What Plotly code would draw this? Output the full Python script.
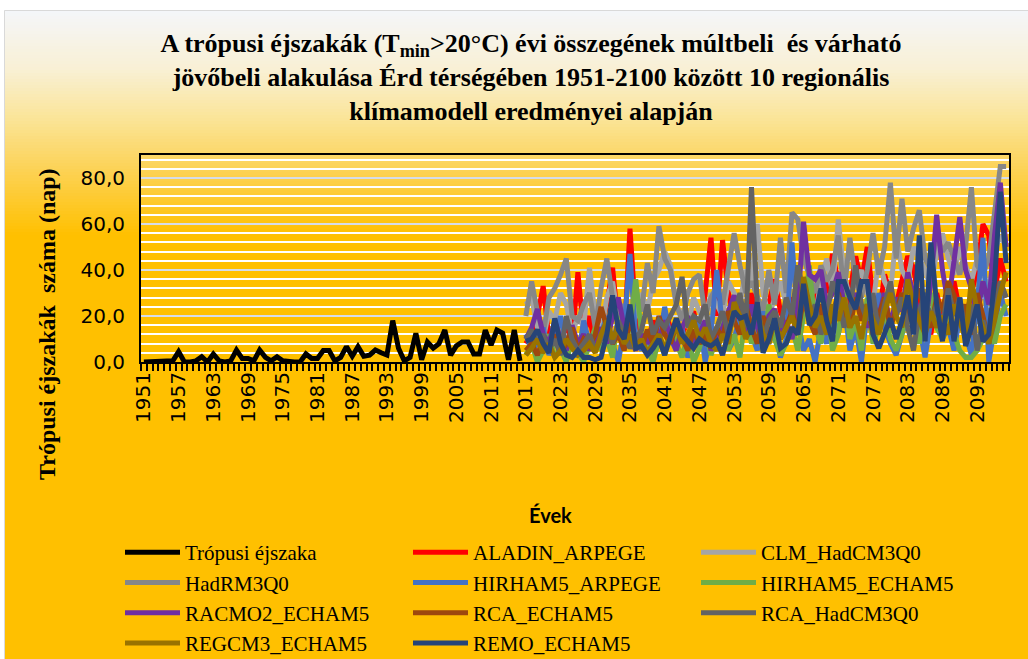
import plotly.graph_objects as go

# observed tropical nights, 1951-2016
obs_years = list(range(1951, 2017))
obs_values = [
    0, 0, 0, 0, 0, 0.5, 4.5, 0, 0, 0.5, 2.3, 0, 3.5, 0.5, 0, 0.5, 5.2, 1.5, 1.5, 0.5,
    5.2, 2, 0.5, 2.3, 0.5, 0, 0, 0, 3.5, 1.5, 1.5, 5, 5, 0.5, 2, 6.7, 2.5, 6.7, 2.5, 3,
    5.2, 4, 3, 18, 6, 0.5, 2, 12.5, 1, 8.7, 6, 8, 13.9, 3, 7, 8.7, 8.7, 3.5, 3.5, 13.9,
    7.4, 13.9, 12.5, 1, 13.9, 0.5,
]

# model projections, 2017-2100
model_years = list(range(2017, 2101))

aladin_arpege = [
    8, 12, 20, 33, 10, 15, 5, 18, 8, 39, 12, 20,
    6, 15, 25, 41, 15, 10, 58, 20, 12, 8, 18, 10,
    22, 15, 8, 12, 18, 22, 10, 30, 54, 20, 53, 30,
    18, 25, 12, 30, 20, 15, 25, 36, 22, 15, 28, 20,
    30, 18, 25, 40, 30, 47, 35, 22, 30, 46, 35, 50,
    28, 20, 38, 30, 25, 35, 46, 41, 25, 18, 12, 30,
    20, 25, 35, 22, 18, 30, 40, 60, 55, 30, 45, 35,
]
clm_hadcm3q0 = [
    25, 28, 15, 10, 22, 18, 30, 25, 12, 20, 15, 41,
    20, 12, 28, 35, 18, 25, 15, 20, 30, 22, 35, 40,
    48, 42, 25, 20, 15, 28, 22, 18, 30, 25, 20, 35,
    30, 25, 40, 35, 60, 30, 20, 28, 35, 25, 40, 30,
    25, 32, 20, 35, 45, 30, 62, 38, 28, 35, 40, 30,
    25, 45, 35, 30, 55, 40, 35, 50, 45, 40, 32, 48,
    56, 45, 38, 50, 42, 35, 45, 40, 30, 48, 55, 50,
]
hadrm3q0 = [
    20, 35, 22, 12, 28, 32, 38, 45, 20, 18, 25, 30,
    15, 32, 45, 28, 20, 25, 18, 30, 22, 43, 30, 59,
    45, 40, 25, 18, 30, 36, 38, 20, 28, 33, 25, 40,
    56, 42, 30, 35, 28, 22, 40, 25, 54, 30, 65, 62,
    45, 38, 30, 42, 35, 40, 55, 30, 54, 35, 28, 40,
    56, 38, 50, 78, 45, 71, 48, 58, 66, 45, 40, 55,
    48, 52, 45, 38, 50, 76, 42, 38, 45, 65, 85, 85,
]
hirham5_arpege = [
    12, 5, 8, 15, 3, 10, 20, 6, 12, 2, 18, 8,
    5, 12, 20, 8, 0, 15, 47, 10, 5, 12, 3, 8,
    24, 10, 5, 15, 2, 8, 18, 0, 12, 40, 15, 5,
    10, 20, 25, 12, 5, 22, 8, 15, 2, 10, 52, 18,
    5, 10, 0, 15, 8, 20, 12, 25, 5, 15, 0, 22,
    10, 30, 15, 8, 3, 12, 20, 28, 15, 2, 18, 25,
    10, 15, 5, 20, 12, 3, 25, 54, 0, 15, 30, 20,
]
hirham5_echam5 = [
    3, 8, 0, 5, 12, 2, 6, 0, 10, 4, 0, 8,
    15, 5, 10, 2, 20, 8, 15, 36, 12, 5, 0, 10,
    3, 15, 8, 2, 12, 0, 6, 15, 3, 10, 18, 5,
    12, 2, 20, 8, 15, 5, 25, 10, 3, 8, 15, 5,
    20, 42, 15, 8, 25, 5, 12, 30, 10, 18, 5, 28,
    8, 15, 22, 10, 5, 12, 25, 18, 8, 22, 30, 15,
    10, 25, 12, 5, 2, 2, 5, 10, 15, 8, 20, 25,
]
racmo2_echam5 = [
    10, 15, 23, 12, 8, 18, 10, 5, 16, 8, 12, 5,
    10, 15, 8, 20, 28, 15, 10, 5, 12, 8, 15, 10,
    18, 12, 5, 15, 20, 8, 12, 18, 5, 10, 15, 22,
    29, 20, 12, 25, 15, 8, 20, 23, 12, 18, 10, 25,
    61, 38, 36, 40, 25, 30, 39, 25, 18, 30, 22, 15,
    25, 20, 30, 15, 28, 22, 39, 30, 20, 15, 35, 64,
    40, 25, 45, 63, 40, 32, 20, 35, 25, 55, 78, 50,
]
rca_echam5 = [
    5, 8, 3, 10, 6, 12, 4, 8, 15, 5, 10, 7,
    12, 24, 15, 8, 12, 5, 18, 10, 6, 14, 8, 20,
    12, 8, 16, 10, 5, 14, 8, 12, 6, 15, 10, 22,
    18, 12, 25, 15, 8, 20, 12, 18, 10, 15, 22, 12,
    28, 18, 12, 25, 15, 20, 30, 22, 15, 28, 18, 25,
    12, 20, 28, 15, 22, 30, 18, 25, 32, 20, 15, 28,
    22, 35, 29, 18, 25, 12, 30, 20, 8, 25, 35, 28,
]
rca_hadcm3q0 = [
    10, 14, 8, 12, 5, 10, 3, 20, 10, 5, 8, 12,
    5, 10, 15, 8, 18, 12, 6, 10, 14, 25, 12, 18,
    15, 20, 25, 37, 15, 20, 18, 25, 10, 15, 22, 12,
    20, 30, 15, 76, 25, 10, 18, 22, 15, 28, 20, 42,
    30, 18, 25, 12, 20, 35, 28, 15, 22, 42, 25, 18,
    30, 12, 25, 35, 20, 28, 15, 5, 22, 30, 18, 25,
    15, 32, 20, 28, 12, 25, 5, 18, 10, 20, 35, 28,
]
regcm3_echam5 = [
    3, 6, 10, 4, 8, 2, 5, 10, 6, 3, 5, 8,
    4, 12, 18, 10, 15, 8, 12, 6, 10, 4, 8, 12,
    6, 10, 15, 8, 12, 18, 10, 15, 8, 5, 12, 8,
    26, 20, 10, 15, 22, 12, 8, 18, 10, 15, 20, 12,
    37, 25, 15, 20, 12, 25, 18, 28, 15, 20, 10, 25,
    18, 12, 22, 30, 20, 15, 36, 25, 18, 12, 22, 15,
    20, 12, 25, 18, 10, 36, 22, 15, 8, 18, 30, 39,
]
remo_echam5 = [
    9, 10, 14, 8, 4, 19, 8, 3, 2, 5, 2, 2,
    1, 2, 12, 29, 14, 10, 25, 6, 7, 3, 6, 10,
    3, 12, 19, 12, 9, 6, 10, 8, 7, 9, 3, 12,
    22, 19, 20, 12, 26, 4, 10, 19, 6, 8, 15, 12,
    34, 16, 20, 32, 18, 9, 35, 35, 28, 23, 35, 35,
    12, 6, 12, 19, 10, 18, 29, 12, 55, 9, 52, 25,
    9, 29, 9, 28, 7, 15, 25, 9, 12, 35, 74, 43,
]

models = [
    ("ALADIN_ARPEGE", aladin_arpege, "#FF0000"),
    ("CLM_HadCM3Q0", clm_hadcm3q0, "#A5A5A5"),
    ("HadRM3Q0", hadrm3q0, "#878787"),
    ("HIRHAM5_ARPEGE", hirham5_arpege, "#4472C4"),
    ("HIRHAM5_ECHAM5", hirham5_echam5, "#70AD47"),
    ("RACMO2_ECHAM5", racmo2_echam5, "#7030A0"),
    ("RCA_ECHAM5", rca_echam5, "#9E480E"),
    ("RCA_HadCM3Q0", rca_hadcm3q0, "#636363"),
    ("REGCM3_ECHAM5", regcm3_echam5, "#997300"),
    ("REMO_ECHAM5", remo_echam5, "#264478"),
]

W, H = 1028, 659
L, R, T, B = 141, 1009, 155, 362   # plot area in px
PW, PH = R - L, B - T


def px(x):
    return (x - L) / PW


def py(y):
    return (B - y) / PH


fig = go.Figure()
fig.add_trace(go.Scatter(
    x=obs_years, y=obs_values, mode="lines", name="Trópusi éjszaka",
    line=dict(color="#000000", width=5),
))
for name, vals, color in models:
    fig.add_trace(go.Scatter(
        x=model_years, y=vals, mode="lines", name=name,
        line=dict(color=color, width=5),
    ))

# gradient background: light at top, gold below
stops = [(10, (244, 246, 250)), (70, (249, 240, 212)), (120, (250, 228, 150)),
         (160, (252, 213, 98)), (235, (255, 192, 0)), (659, (255, 192, 0))]
shapes = []
step = 3
for y0 in range(10, 240, step):
    yc = y0 + step / 2
    for (ya, ca), (yb, cb) in zip(stops, stops[1:]):
        if ya <= yc <= yb:
            f = (yc - ya) / (yb - ya)
            c = tuple(round(a + (b - a) * f) for a, b in zip(ca, cb))
            break
    shapes.append(dict(
        type="rect", xref="paper", yref="paper", layer="below",
        x0=px(4), x1=px(W), y0=py(y0 + step + 0.5), y1=py(y0),
        fillcolor="rgb(%d,%d,%d)" % c, line=dict(width=0),
    ))
shapes.append(dict(
    type="rect", xref="paper", yref="paper", layer="below",
    x0=px(4), x1=px(W), y0=py(H), y1=py(240),
    fillcolor="#FFC000", line=dict(width=0),
))
shapes.append(dict(
    type="rect", xref="paper", yref="paper", layer="below",
    x0=px(4.5), x1=px(W + 2), y0=py(H + 2), y1=py(10.5),
    fillcolor="rgba(0,0,0,0)", line=dict(color="#D9D9D9", width=1),
))

fig.update_layout(
    width=W, height=H,
    margin=dict(l=L, r=W - R, t=T, b=H - B, autoexpand=False),
    paper_bgcolor="white", plot_bgcolor="rgba(0,0,0,0)",
    separators=", ",
    shapes=shapes,
    title=dict(
        text="<b>A trópusi éjszakák (T<sub>min</sub>>20°C) évi összegének múltbeli  és várható<br>"
             "jövőbeli alakulása Érd térségében 1951-2100 között 10 regionális<br>"
             "klímamodell eredményei alapján</b>",
        font=dict(family="Liberation Serif", size=26, color="#000000"),
        x=531 / W, xanchor="center", xref="container",
        y=1 - 52 / H, yanchor="top", yref="container",
    ),
    xaxis=dict(
        range=[1950.5, 2100.5], tick0=1951, dtick=6, ticks="",
        tickangle=-90, tickfont=dict(family="DejaVu Sans", size=20, color="#000000"),
        showgrid=False, zeroline=False,
        showline=True, linecolor="#000000", linewidth=2, mirror=True,
        minor=dict(tick0=1950.5, dtick=1, ticks="outside", ticklen=7,
                   tickwidth=1.5, tickcolor="#000000", showgrid=False),
    ),
    yaxis=dict(
        range=[0, 90], dtick=20, tickformat=".1f",
        tickfont=dict(family="DejaVu Sans", size=20, color="#000000"),
        ticks="", ticklabelstandoff=10,
        showgrid=True, gridcolor="#D5DCE8", gridwidth=2,
        zeroline=False,
        showline=True, linecolor="#000000", linewidth=2, mirror=True,
        minor=dict(dtick=4, showgrid=True, gridcolor="white", gridwidth=1.5),
    ),
    legend=dict(
        orientation="h", xref="container", yref="container",
        x=120 / W, y=1 - 532 / H, xanchor="left", yanchor="top",
        font=dict(family="Liberation Serif", size=21, color="#000000"),
        entrywidth=218, entrywidthmode="pixels", bgcolor="rgba(0,0,0,0)",
        itemwidth=55, traceorder="normal",
    ),
    annotations=[
        dict(text="<b>Trópusi éjszakák  száma (nap)</b>", textangle=-90,
             xref="paper", yref="paper", x=px(47), y=py(324),
             xanchor="center", yanchor="middle", showarrow=False,
             font=dict(family="Liberation Serif", size=24, color="#000000")),
        dict(text="<b>Évek</b>", xref="paper", yref="paper",
             x=px(550), y=py(515), xanchor="center", yanchor="middle",
             showarrow=False,
             font=dict(family="Lato", size=20, color="#000000")),
    ],
)

# drop the default body margin so the figure sits at the window origin
fig.write_html(
    "out.html",
    config={"displaylogo": False, "displayModeBar": False},
    post_script="document.body.style.margin='0';",
)
